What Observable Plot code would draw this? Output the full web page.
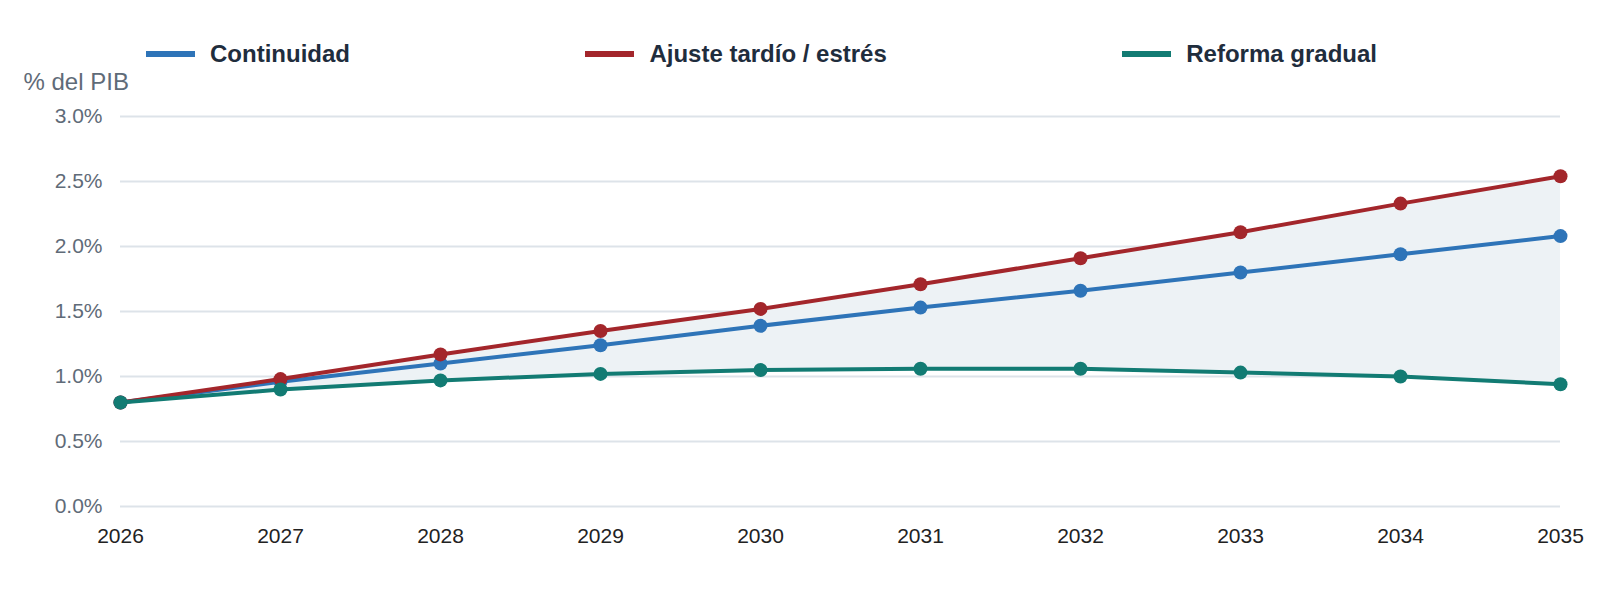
<!DOCTYPE html>
<html>
<head>
<meta charset="utf-8">
<script src="https://cdn.jsdelivr.net/npm/d3@7"></script>
<script src="https://cdn.jsdelivr.net/npm/@observablehq/plot@0.6"></script>
<style>
  html, body { margin: 0; padding: 0; background: #fff; }
  body { width: 1600px; height: 610px; overflow: hidden; font-family: "Liberation Sans", Arial, sans-serif; }
  #legend { box-sizing: border-box; height: 68px; padding-top: 39px; padding-left: 146px; width: 1377px;
            display: flex; justify-content: space-between; align-items: center; }
  .item { display: flex; align-items: center; height: 26px; font-weight: bold; font-size: 24px; color: #1f2d3d; }
  .sw { width: 49px; height: 6px; margin-right: 15px; }
</style>
</head>
<body>
<div id="legend"></div>
<div id="chart"></div>
<script>
const years = [2026, 2027, 2028, 2029, 2030, 2031, 2032, 2033, 2034, 2035];
const continuidad = [0.80, 0.96, 1.10, 1.24, 1.39, 1.53, 1.66, 1.80, 1.94, 2.08];
const ajuste = [0.80, 0.98, 1.17, 1.35, 1.52, 1.71, 1.91, 2.11, 2.33, 2.54];
const reforma = [0.80, 0.90, 0.97, 1.02, 1.05, 1.06, 1.06, 1.03, 1.00, 0.94];
const seriesNames = ["Continuidad", "Ajuste tardío / estrés", "Reforma gradual"];
const seriesColors = ["#2e74b8", "#a3262b", "#127b73"];
const yTicks = [0, 0.5, 1.0, 1.5, 2.0, 2.5, 3.0];

const seriesValues = [continuidad, ajuste, reforma];
const long = [];
seriesNames.forEach((name, i) => years.forEach((yr, j) => long.push({year: yr, value: seriesValues[i][j], series: name})));
const band = years.map((yr, j) => ({year: yr, lo: reforma[j], hi: ajuste[j]}));

const legend = document.getElementById("legend");
seriesNames.forEach((n, i) => {
  const it = document.createElement("div");
  it.className = "item";
  it.innerHTML = `<span class="sw" style="background:${seriesColors[i]}"></span><span>${n}</span>`;
  legend.appendChild(it);
});

const marks = [
  Plot.ruleY(yTicks, {stroke: "#dde3e9", strokeWidth: 2}),
  Plot.areaY(band, {x: "year", y1: "lo", y2: "hi", fill: "#edf2f5"}),
  Plot.axisY({ticks: yTicks, tickSize: 0, tickPadding: 18, tickFormat: d => d.toFixed(1) + "%", fontSize: 21, fill: "#5f6b78", label: null}),
  Plot.axisX({ticks: years, tickSize: 0, tickPadding: 22, tickFormat: d => String(d), fontSize: 21, fill: "#222", label: null}),
  Plot.text(["% del PIB"], {frameAnchor: "top-left", textAnchor: "start", lineAnchor: "middle", dx: -97, dy: -34, fontSize: 24, fill: "#5f6b78"})
];
seriesNames.forEach((n, i) => {
  const d = long.filter(r => r.series === n);
  marks.push(Plot.line(d, {x: "year", y: "value", stroke: seriesColors[i], strokeWidth: 4}));
  marks.push(Plot.dot(d, {x: "year", y: "value", fill: seriesColors[i], r: 7}));
});

const chart = Plot.plot({
  width: 1600,
  height: 542,
  marginLeft: 120,
  marginRight: 40,
  marginTop: 48,
  marginBottom: 104,
  style: {fontFamily: "'Liberation Sans', Arial, sans-serif", background: "#fff", overflow: "visible"},
  x: {domain: [2026, 2035], type: "linear"},
  y: {domain: [0, 3]},
  marks
});
document.getElementById("chart").appendChild(chart);
</script>
</body>
</html>
